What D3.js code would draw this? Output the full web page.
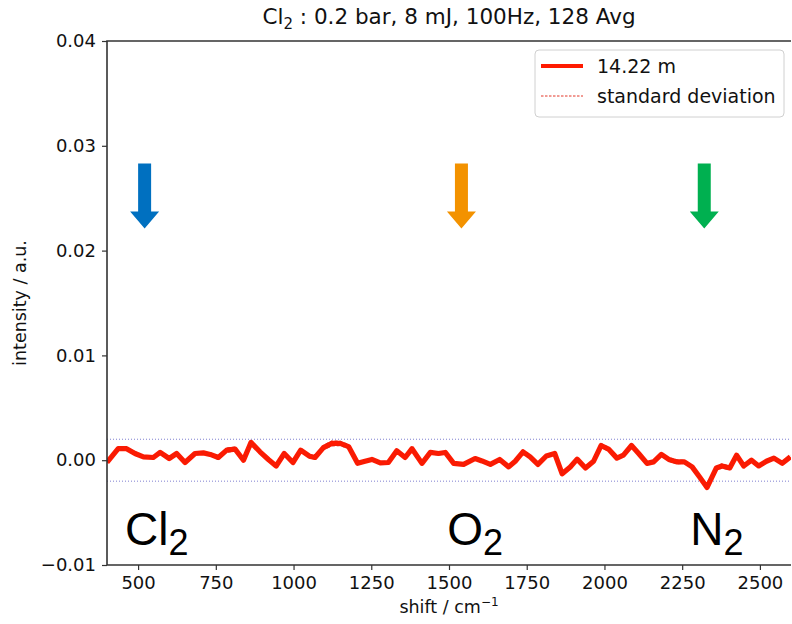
<!DOCTYPE html>
<html>
<head>
<meta charset="utf-8">
<script src="https://cdn.jsdelivr.net/npm/d3@7"></script>
<style>
  body { margin: 0; background: #fff; }
  text { font-family: "DejaVu Sans", sans-serif; fill: #111; }
</style>
</head>
<body>
<div id="chart"></div>
<script>
// raman shift (cm-1) and mean intensity of the 14.22 m trace
var shift = [400, 436, 463, 490, 517, 549, 571, 600, 624, 651, 683, 710, 732, 758, 785, 812, 839, 863, 892, 919,
             944, 970, 998, 1023, 1051, 1069, 1096, 1123, 1150, 1177, 1206, 1230, 1252, 1279, 1305, 1332, 1359, 1381, 1413, 1440,
             1466, 1488, 1515, 1547, 1584, 1606, 1633, 1663, 1692, 1713, 1738, 1761, 1786, 1813, 1840, 1864, 1890, 1912, 1939, 1965,
             1989, 2013, 2040, 2061, 2087, 2110, 2137, 2158, 2183, 2207, 2234, 2257, 2282, 2306, 2330, 2360, 2378, 2403, 2425, 2448,
             2473, 2496, 2521, 2545, 2572, 2598];
var intensity = [-0.0002, 0.0011, 0.0011, 0.00064, 0.00032, 0.00026, 0.00074, 0.00016, 0.00064, -0.00022,
                 0.00064, 0.0007, 0.00055, 0.00026, 0.00096, 0.00106, 0.0, 0.0017, 0.0008, 0.00007,
                 -0.00055, 0.00064, -0.00022, 0.00096, 0.00038, 0.00026, 0.0012, 0.0016, 0.0016, 0.0013,
                 -0.0003, -0.0001, 0.00007, -0.00026, -0.00022, 0.0009, 0.00026, 0.0011, -0.0003, 0.00074,
                 0.00064, 0.00074, -0.0003, -0.0004, 0.00016, -0.00007, -0.0004, 0.00007, -0.00064, -0.0001,
                 0.0008, 0.00032, -0.0004, 0.0004, 0.00064, -0.0013, -0.00064, 0.0001, -0.00074, -0.0001,
                 0.0014, 0.00106, 0.0002, 0.00048, 0.0014, 0.00064, -0.0003, -0.00016, 0.00055, 0.00007,
                 -0.00016, -0.00016, -0.00064, -0.0016, -0.0026, -0.00074, -0.00055, -0.00074, 0.00048, -0.00055,
                 0.0, -0.00055, -0.0001, 0.0002, -0.0003, 0.00032];
var stdev = [0.0001, 0.00012, 0.00015, 0.00018, 0.00012, 0.0001, 0.0001, 0.0001, 0.00012, 0.0001,
             0.0001, 0.0001, 0.00015, 0.0002, 0.00022, 0.0002, 0.0001, 0.0001, 0.0001, 0.0001,
             0.00012, 0.00015, 0.0002, 0.00015, 0.00018, 0.00015, 0.00022, 0.00025, 0.00022, 0.0002,
             0.00012, 0.00012, 0.0001, 0.00012, 0.00015, 0.00015, 0.00018, 0.00015, 0.00012, 0.00012,
             0.00015, 0.00012, 0.00012, 0.00012, 0.00012, 0.00015, 0.00012, 0.00012, 0.00012, 0.00015,
             0.00018, 0.00015, 0.00012, 0.00012, 0.00012, 0.0001, 0.00015, 0.00015, 0.00012, 0.00012,
             0.00022, 0.00018, 0.00012, 0.00015, 0.00022, 0.00015, 0.00012, 0.00012, 0.00015, 0.00018,
             0.0002, 0.00015, 0.00015, 0.00012, 0.0001, 0.00018, 0.00022, 0.00018, 0.00015, 0.00012,
             0.00012, 0.00012, 0.00012, 0.00018, 0.00012, 0.00015];

var xTicks = [500, 750, 1000, 1250, 1500, 1750, 2000, 2250, 2500];
var yTicks = [-0.01, 0.00, 0.01, 0.02, 0.03, 0.04];
var noiseBand = [-0.002, 0.002];

var species = ["Cl", "O", "N"];
var speciesShift = [521, 1540, 2321];
var speciesColor = ["#0070c0", "#f39200", "#00b050"];
var labelShift = [458, 1494, 2276];

var W = 792, H = 624;
var margin = {top: 41, right: 1, bottom: 59, left: 107};
var width = W - margin.left - margin.right,
    height = H - margin.top - margin.bottom;

var svg = d3.select("#chart").append("svg")
    .attr("width", W)
    .attr("height", H);

var g = svg.append("g")
    .attr("transform", "translate(" + margin.left + "," + margin.top + ")");

var x = d3.scaleLinear().domain([400, 2600]).range([0, width]);
var y = d3.scaleLinear().domain([-0.01, 0.04]).range([height, 0]);

g.append("clipPath").attr("id", "plotclip")
  .append("rect").attr("width", width).attr("height", height);

var plot = g.append("g").attr("clip-path", "url(#plotclip)");

// +-0.002 guide lines
plot.selectAll(".band")
    .data(noiseBand)
    .enter().append("line")
    .attr("class", "band")
    .attr("x1", 0).attr("x2", width)
    .attr("y1", function(d) { return y(d); })
    .attr("y2", function(d) { return y(d); })
    .style("stroke", "#7f7fd0")
    .style("stroke-width", 1)
    .style("stroke-dasharray", "1,2");

var pts = shift.map(function(s, i) { return {s: s, v: intensity[i], e: stdev[i]}; });

var line = d3.line().x(function(d) { return x(d.s); }).y(function(d) { return y(d.v); });
var lineHi = d3.line().x(function(d) { return x(d.s); }).y(function(d) { return y(d.v + d.e); });
var lineLo = d3.line().x(function(d) { return x(d.s); }).y(function(d) { return y(d.v - d.e); });

plot.append("path").datum(pts)
    .attr("d", line)
    .style("fill", "none")
    .style("stroke", "#ff1a00")
    .style("stroke-width", 5.2)
    .style("stroke-linejoin", "round");

[lineHi, lineLo].forEach(function(l) {
  plot.append("path").datum(pts)
      .attr("d", l)
      .style("fill", "none")
      .style("stroke", "#e02010")
      .style("stroke-width", 0.8)
      .style("stroke-dasharray", "3,2");
});

// arrows
var arrowTop = 0.0283, arrowTip = 0.0221;
species.forEach(function(sp, i) {
  var cx = x(speciesShift[i]), t = y(arrowTop), b = y(arrowTip);
  var hb = b - 17, sw = 6.5, hw = 14.5;
  var p = d3.path();
  p.moveTo(cx - sw, t); p.lineTo(cx + sw, t); p.lineTo(cx + sw, hb);
  p.lineTo(cx + hw, hb); p.lineTo(cx, b); p.lineTo(cx - hw, hb);
  p.lineTo(cx - sw, hb); p.closePath();
  g.append("path").attr("d", p.toString()).style("fill", speciesColor[i]);

  var lab = g.append("text")
      .attr("x", x(labelShift[i]))
      .attr("y", y(-0.0081))
      .style("font-family", "'Liberation Sans', Arial, sans-serif")
      .style("font-size", "46px")
      .style("fill", "#000");
  lab.append("tspan").text(sp);
  lab.append("tspan").attr("dy", 10).style("font-size", "36px").text("2");
});

// axes
var xAxis = d3.axisBottom(x).tickValues(xTicks).tickSize(5).tickPadding(6).tickFormat(d3.format("d"));
var yAxis = d3.axisLeft(y).tickValues(yTicks).tickSize(5).tickPadding(6).tickFormat(function(d) {
  return d3.format(".2f")(d).replace("-", "\u2212");
});

var gx = g.append("g").attr("transform", "translate(0," + height + ")").call(xAxis);
var gy = g.append("g").call(yAxis);
[gx, gy].forEach(function(a) {
  a.select(".domain").remove();
  a.selectAll(".tick line").style("stroke", "#333").style("stroke-width", 1.2);
  a.selectAll(".tick text").style("font-size", "18px").style("font-family", "'DejaVu Sans', sans-serif").style("fill", "#111");
});

// spines (left, top, bottom)
g.append("path")
    .attr("d", "M" + width + ",0H0V" + height + "H" + width)
    .style("fill", "none")
    .style("stroke", "#333")
    .style("stroke-width", 1.6);

// title
var title = svg.append("text")
    .attr("x", margin.left + width / 2)
    .attr("y", 24)
    .attr("text-anchor", "middle")
    .style("font-size", "21.5px");
title.append("tspan").text("Cl");
title.append("tspan").attr("dy", 5).style("font-size", "15px").text("2");
title.append("tspan").attr("dy", -5).text(" : 0.2 bar, 8 mJ, 100Hz, 128 Avg");

// axis labels
var xl = svg.append("text")
    .attr("x", margin.left + width / 2)
    .attr("y", 613)
    .attr("text-anchor", "middle")
    .style("font-size", "17.5px");
xl.append("tspan").text("shift / cm");
xl.append("tspan").attr("dy", -7).style("font-size", "12px").text("\u22121");

svg.append("text")
    .attr("transform", "translate(26," + (margin.top + height / 2) + ") rotate(-90)")
    .attr("text-anchor", "middle")
    .style("font-size", "17.5px")
    .text("intensity / a.u.");

// legend
var leg = svg.append("g").attr("transform", "translate(535,50)");
leg.append("rect")
    .attr("width", 249).attr("height", 67).attr("rx", 4)
    .style("fill", "#fff").style("stroke", "#d0d0d0").style("stroke-width", 1);
leg.append("line").attr("x1", 6).attr("x2", 48).attr("y1", 16).attr("y2", 16)
    .style("stroke", "#ff1a00").style("stroke-width", 4);
leg.append("line").attr("x1", 6).attr("x2", 48).attr("y1", 46).attr("y2", 46)
    .style("stroke", "#e02010").style("stroke-width", 0.9).style("stroke-dasharray", "2.5,1.5");
leg.append("text").attr("x", 62).attr("y", 23).style("font-size", "19px").text("14.22 m");
leg.append("text").attr("x", 62).attr("y", 53).style("font-size", "19px").text("standard deviation");
</script>
</body>
</html>
